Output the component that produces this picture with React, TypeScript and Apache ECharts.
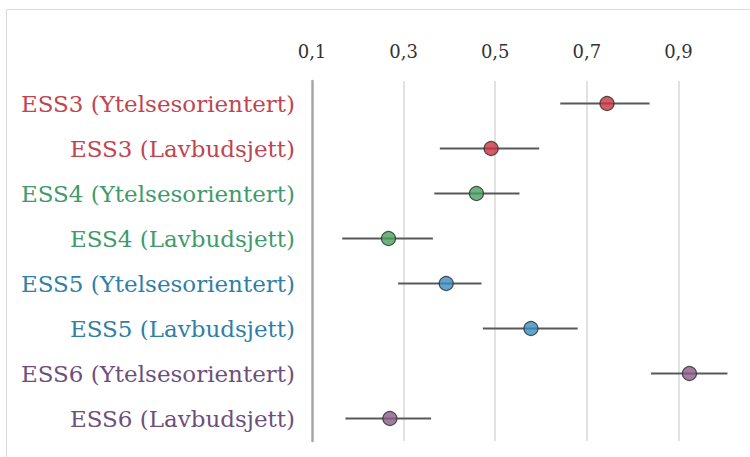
import React, { useEffect, useRef } from "react";
import * as echarts from "echarts";

const categories = [
  "ESS3 (Ytelsesorientert)",
  "ESS3 (Lavbudsjett)",
  "ESS4 (Ytelsesorientert)",
  "ESS4 (Lavbudsjett)",
  "ESS5 (Ytelsesorientert)",
  "ESS5 (Lavbudsjett)",
  "ESS6 (Ytelsesorientert)",
  "ESS6 (Lavbudsjett)",
];
const estimates = [0.744, 0.491, 0.459, 0.267, 0.393, 0.578, 0.924, 0.27];
const lower = [0.642, 0.379, 0.367, 0.166, 0.288, 0.473, 0.84, 0.173];
const upper = [0.837, 0.596, 0.553, 0.364, 0.47, 0.68, 1.007, 0.36];
const labelColors = ["#bf4550", "#bf4550", "#3f9a6c", "#3f9a6c", "#2f7fa6", "#2f7fa6", "#6e4f7c", "#6e4f7c"];
const markerColors = ["#c9323f", "#c9323f", "#47a05f", "#47a05f", "#3a8cc0", "#3a8cc0", "#8b5a89", "#8b5a89"];
const xTicks = [0.1, 0.3, 0.5, 0.7, 0.9];

export default function App() {
  const ref = useRef<HTMLDivElement>(null);
  useEffect(() => {
    const chart = echarts.init(ref.current!, null, { renderer: "svg" });
    const serif = "DejaVu Serif";
    chart.setOption({
      animation: false,
      backgroundColor: "#ffffff",
      textStyle: { fontFamily: serif },
      graphic: [
        {
          type: "rect",
          shape: { x: 6.5, y: 9.5, width: 800, height: 500 },
          style: { fill: "none", stroke: "#dcdcdc", lineWidth: 1 },
          silent: true,
        },
      ],
      grid: { left: 312, right: 12, top: 81, bottom: 16 },
      xAxis: {
        type: "value",
        position: "top",
        min: xTicks[0],
        max: 1.03,
        interval: 0.2,
        axisLine: { show: false },
        axisTick: { show: false },
        axisLabel: {
          showMaxLabel: false,
          margin: 21,
          fontFamily: serif,
          fontSize: 18,
          color: "#333333",
          formatter: (v: number) => v.toFixed(1).replace(".", ","),
        },
        splitLine: {
          show: true,
          showMinLine: false,
          showMaxLine: false,
          lineStyle: { color: "#d9d9d9", width: 1.5 },
        },
      },
      yAxis: {
        type: "category",
        inverse: true,
        data: categories.map((c, i) => ({
          value: c,
          textStyle: { color: labelColors[i], fontFamily: serif, fontSize: 23 },
        })),
        axisLine: { show: true, lineStyle: { color: "#a6a6a6", width: 2.5 } },
        axisTick: { show: false },
        axisLabel: { margin: 17, fontFamily: serif, fontSize: 23 },
        splitLine: { show: false },
      },
      series: [
        {
          type: "custom",
          data: categories.map((_, i) => [lower[i], upper[i], i]),
          renderItem: (params: any, api: any) => {
            const p1 = api.coord([api.value(0), api.value(2)]);
            const p2 = api.coord([api.value(1), api.value(2)]);
            return {
              type: "line",
              shape: { x1: p1[0], y1: p1[1], x2: p2[0], y2: p2[1] },
              style: { stroke: "#595959", lineWidth: 2 },
            };
          },
          encode: { x: [0, 1], y: 2 },
          z: 2,
        },
        {
          type: "scatter",
          symbol: "circle",
          symbolSize: 14,
          data: categories.map((c, i) => ({
            value: [estimates[i], c],
            itemStyle: { color: markerColors[i], borderColor: "#2b2b2b", borderWidth: 1.2 },
          })),
          z: 3,
        },
      ],
    });
    return () => chart.dispose();
  }, []);
  return (
    <div
      ref={ref}
      style={{ position: "fixed", left: 0, top: 0, width: 750, height: 457 }}
    />
  );
}
